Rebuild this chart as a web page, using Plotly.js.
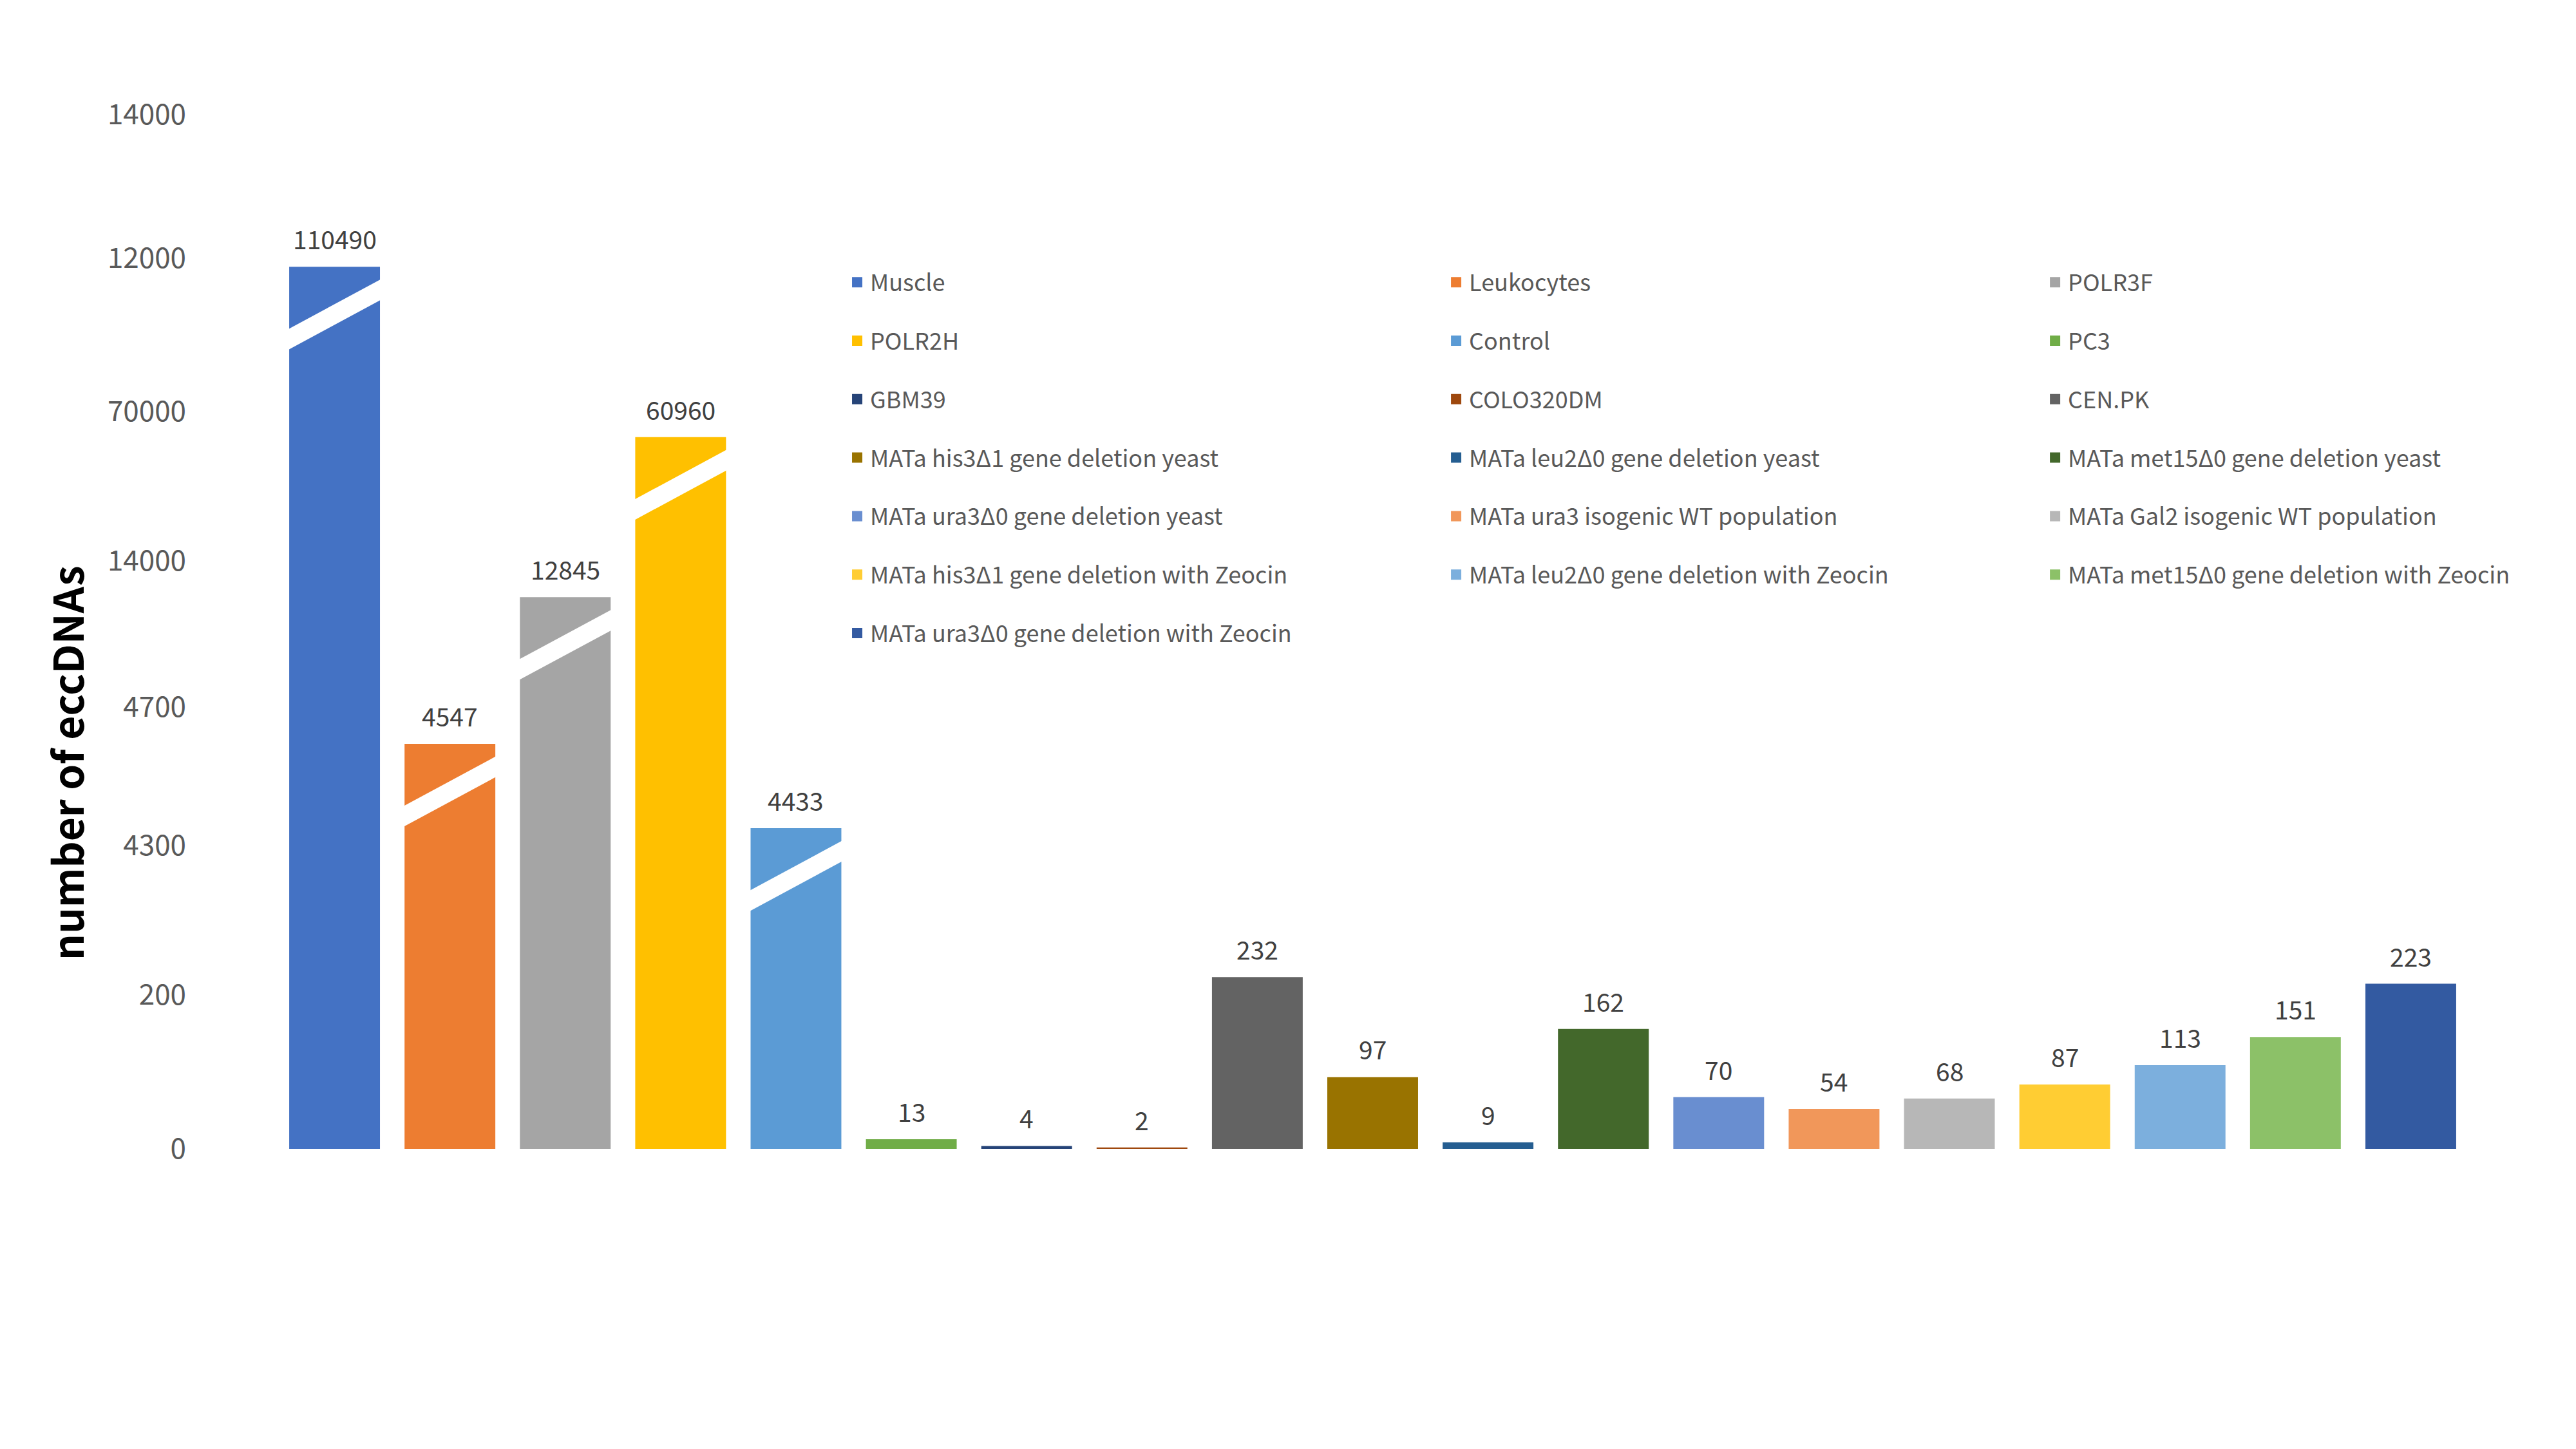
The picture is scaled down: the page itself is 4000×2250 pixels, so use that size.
<!DOCTYPE html>
<html>
<head>
<meta charset="utf-8">
<script src="https://cdn.plot.ly/plotly-3.0.1.min.js"></script>
<style>html,body{margin:0;padding:0;background:#fff;}#chart{width:4000px;height:2250px;}</style>
</head>
<body>
<div id="chart"></div>
<script>
// ---- data ----
const categories = [
  'Muscle', 'Leukocytes', 'POLR3F', 'POLR2H', 'Control', 'PC3', 'GBM39', 'COLO320DM', 'CEN.PK',
  'MATa his3Δ1 gene deletion yeast', 'MATa leu2Δ0 gene deletion yeast', 'MATa met15Δ0 gene deletion yeast',
  'MATa ura3Δ0 gene deletion yeast', 'MATa ura3 isogenic WT population', 'MATa Gal2 isogenic WT population',
  'MATa his3Δ1 gene deletion with Zeocin', 'MATa leu2Δ0 gene deletion with Zeocin',
  'MATa met15Δ0 gene deletion with Zeocin', 'MATa ura3Δ0 gene deletion with Zeocin'
];
// labelled counts
const values = [110490, 4547, 12845, 60960, 4433, 13, 4, 2, 232, 97, 9, 162, 70, 54, 68, 87, 113, 151, 223];
// heights as drawn on the broken (non-linear) axis of the original
const drawnHeights = [1191, 547, 745, 961, 433, 13, 4, 2, 232, 97, 9, 162, 70, 54, 68, 87, 113, 151, 223];
const colors = [
  '#4472C4', '#ED7D31', '#A5A5A5', '#FFC000', '#5B9BD5', '#70AD47', '#264478', '#9E480E', '#636363',
  '#997300', '#255E91', '#43682B', '#698ED0', '#F1975A', '#B7B7B7', '#FFCD33', '#7CAFDD', '#8CC168', '#335AA1'
];
// y-axis tick labels of the broken axis
const tickVals = [0, 208, 410, 597, 794, 996, 1203, 1397];
const tickText = ['0', '200', '4300', '4700', '14000', '70000', '12000', '14000'];

// ---- build ----
const FONT = '"Noto Sans CJK SC", "Source Sans Pro", "Noto Sans", sans-serif';
const xs = categories.map((_, i) => i);
const BAR_W = 0.787;

const traces = [{
  type: 'bar',
  x: xs,
  y: drawnHeights,
  width: BAR_W,
  marker: {color: colors},
  showlegend: false,
  hoverinfo: 'skip'
}];

const legendIds = ['legend', 'legend2', 'legend3'];
categories.forEach((name, i) => {
  traces.push({
    type: 'scatter',
    mode: 'markers',
    x: [null], y: [null],
    name: name,
    legend: legendIds[i % 3],
    legendgroup: 'g' + i,
    showlegend: true,
    marker: {symbol: 'square', size: 16, color: colors[i]},
    hoverinfo: 'skip'
  });
});

// value labels above each bar
const annotations = values.map((v, i) => ({
  x: i, y: drawnHeights[i], xref: 'x', yref: 'y',
  text: String(v), showarrow: false, yanchor: 'middle', yshift: 44,
  font: {family: FONT, size: 39, color: '#404040'}
}));
annotations.push({
  xref: 'paper', yref: 'paper', x: -0.0962, y: 0.343,
  text: '<b>number of eccDNAs</b>', textangle: -90, showarrow: false,
  xanchor: 'center', yanchor: 'middle',
  font: {family: FONT, size: 64, color: '#000000'}
});

// white diagonal break marks on bars that exceed the axis segment
const shapes = [];
const pxPerUnit = 1.15;
const slope = (76 / pxPerUnit) / BAR_W;      // rise per x-unit
const centerDrop = 58 / pxPerUnit;            // upper edge at bar centre, below top
const thick = 32 / pxPerUnit;
values.forEach((v, i) => {
  if (v < 1000) return;
  const top = drawnHeights[i];
  const x0 = i - 0.41, x1 = i + 0.41;
  const yU0 = top - centerDrop + slope * (x0 - i);
  const yU1 = top - centerDrop + slope * (x1 - i);
  shapes.push({
    type: 'path', xref: 'x', yref: 'y', layer: 'above',
    path: `M${x0},${yU0} L${x1},${yU1} L${x1},${yU1 - thick} L${x0},${yU0 - thick} Z`,
    fillcolor: '#FFFFFF', line: {width: 0}
  });
});

const legendBase = {
  orientation: 'v', yanchor: 'top', xanchor: 'left', y: 0.787,
  bgcolor: 'rgba(0,0,0,0)', borderwidth: 0, tracegroupgap: 41,
  font: {family: FONT, size: 36, color: '#595959'}, valign: 'middle'
};

const layout = {
  width: 4000, height: 2250,
  paper_bgcolor: '#FFFFFF', plot_bgcolor: '#FFFFFF',
  margin: {l: 430, r: 167, t: 36, b: 466, autoexpand: false},
  font: {family: FONT},
  showlegend: true,
  xaxis: {range: [-0.5, 18.5], showticklabels: false, showgrid: false, zeroline: false,
          showline: false, ticks: '', fixedrange: true},
  yaxis: {range: [0, 1520], tickmode: 'array', tickvals: tickVals, ticktext: tickText,
          showgrid: false, zeroline: false, showline: false, ticks: '', automargin: false,
          ticklabelstandoff: 140, tickfont: {family: FONT, size: 44, color: '#595959'},
          fixedrange: true},
  legend: Object.assign({}, legendBase, {x: 0.2589}),
  legend2: Object.assign({}, legendBase, {x: 0.5322}),
  legend3: Object.assign({}, legendBase, {x: 0.8055}),
  annotations: annotations,
  shapes: shapes,
  bargap: 0.2
};

Plotly.newPlot('chart', traces, layout, {staticPlot: true, displayModeBar: false});
</script>
</body>
</html>
